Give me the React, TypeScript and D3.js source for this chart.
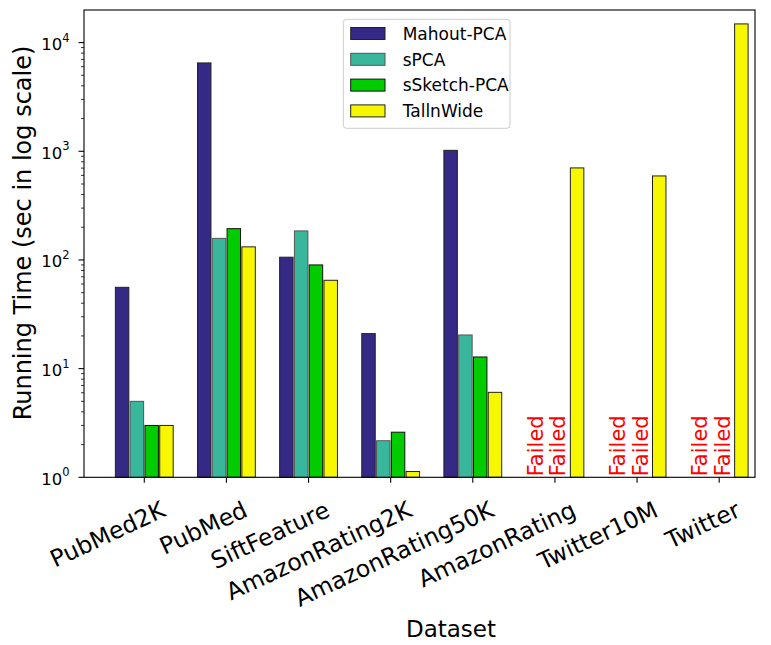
import React from "react";
import * as d3 from "d3";

const categories = ["PubMed2K", "PubMed", "SiftFeature", "AmazonRating2K", "AmazonRating50K", "AmazonRating", "Twitter10M", "Twitter"];
const seriesNames = ["Mahout-PCA", "sPCA", "sSketch-PCA", "TallnWide"];
const mahout: (number | null)[] = [56, 6500, 106, 21, 1020, null, null, null];
const spca: (number | null)[] = [5.0, 158, 185, 2.17, 20.4, null, null, null];
const ssketch: (number | null)[] = [3.0, 194, 90, 2.6, 12.8, null, null, null];
const tallnwide: (number | null)[] = [3.0, 132, 65, 1.13, 6.05, 703, 593, 14860];
const failedLabels = ["Failed", "Failed"];
const yTickExps = [0, 1, 2, 3, 4];

const seriesValues = [mahout, spca, ssketch, tallnwide];
const colors = ["#342a85", "#39b79c", "#00cc00", "#f7f700"];
const edges = ["#222", "#555", "#111", "#222"];

const W = 771, H = 645;
const left = 84, right = 755, top = 10, bottom = 477.3;
const FONT = "DejaVu Sans, sans-serif";

export default function App() {
  const x = d3.scaleLinear().domain([-0.734, 7.436]).range([left, right]);
  const y = d3.scaleLog().domain([1, Math.pow(10, 4.3)]).range([bottom, top]);
  const step = 0.18;
  const bw = 0.164;
  const unit = x(1) - x(0);

  const minorTicks: number[] = [];
  for (let e = 0; e <= 4; e++) {
    for (let m = 2; m <= 9; m++) {
      const v = m * Math.pow(10, e);
      if (v <= Math.pow(10, 4.3)) minorTicks.push(v);
    }
  }

  return (
    <svg width={W} height={H} style={{ position: "absolute", left: 0, top: 0, background: "#fff" }} fontFamily={FONT}>
      <rect x={0} y={0} width={W} height={H} fill="#fff" />
      {/* bars */}
      {seriesValues.map((vals, s) =>
        vals.map((v, i) =>
          v == null ? null : (
            <rect
              key={`b${s}-${i}`}
              x={x(i + (s - 1.5) * step - bw / 2)}
              y={y(v)}
              width={bw * unit}
              height={bottom - y(v)}
              fill={colors[s]}
              stroke={edges[s]}
              strokeWidth={1}
            />
          )
        )
      )}
      {/* failed labels */}
      {categories.map((c, i) =>
        mahout[i] == null
          ? failedLabels.map((t, k) => (
              <text
                key={`f${i}-${k}`}
                transform={`translate(${x(i) - 12 + k * 22.5},${bottom - 1}) rotate(-90)`}
                fontSize={21}
                fill="#ff0000"
              >
                {t}
              </text>
            ))
          : null
      )}
      {/* frame */}
      <rect x={left} y={top} width={right - left} height={bottom - top} fill="none" stroke="#000" strokeWidth={1.1} />
      {/* y ticks */}
      {minorTicks.map((v, i) => (
        <line key={`m${i}`} x1={left - 3} x2={left} y1={y(v)} y2={y(v)} stroke="#000" strokeWidth={0.8} />
      ))}
      {yTickExps.map((e) => {
        const v = Math.pow(10, e);
        return (
          <g key={`y${e}`}>
            <line x1={left - 5.5} x2={left} y1={y(v)} y2={y(v)} stroke="#000" strokeWidth={1.1} />
            <text x={69.5} y={y(v) + 7.3} textAnchor="end" fontSize={16.5} fill="#000">
              10
              <tspan fontSize={11.5} dy={-8.3}>{e}</tspan>
            </text>
          </g>
        );
      })}
      {/* x ticks */}
      {categories.map((c, i) => (
        <g key={`x${i}`}>
          <line x1={x(i)} x2={x(i)} y1={bottom} y2={bottom + 5.5} stroke="#000" strokeWidth={1.1} />
          <text
            transform={`translate(${x(i) + 22.7},${bottom + 38.3}) rotate(-25)`}
            textAnchor="end"
            fontSize={23.5}
            fill="#000"
          >
            {c}
          </text>
        </g>
      ))}
      {/* axis labels */}
      <text transform={`translate(31,233) rotate(-90)`} textAnchor="middle" fontSize={24} fill="#000">
        Running Time (sec in log scale)
      </text>
      <text x={451} y={636.5} textAnchor="middle" fontSize={23} fill="#000">
        Dataset
      </text>
      {/* legend */}
      <g>
        <rect x={343.3} y={19.3} width={166.7} height={109} rx={3} fill="#fff" fillOpacity={0.8} stroke="#ccc" strokeWidth={1} />
        {seriesNames.map((n, s) => {
          const cy = 33.5 + s * 25.8;
          return (
            <g key={`l${s}`}>
              <rect x={350.7} y={cy - 6} width={34.3} height={12} fill={colors[s]} stroke={edges[s]} strokeWidth={1} />
              <text x={402.7} y={cy + 6.2} fontSize={17} fill="#000">
                {n}
              </text>
            </g>
          );
        })}
      </g>
    </svg>
  );
}
